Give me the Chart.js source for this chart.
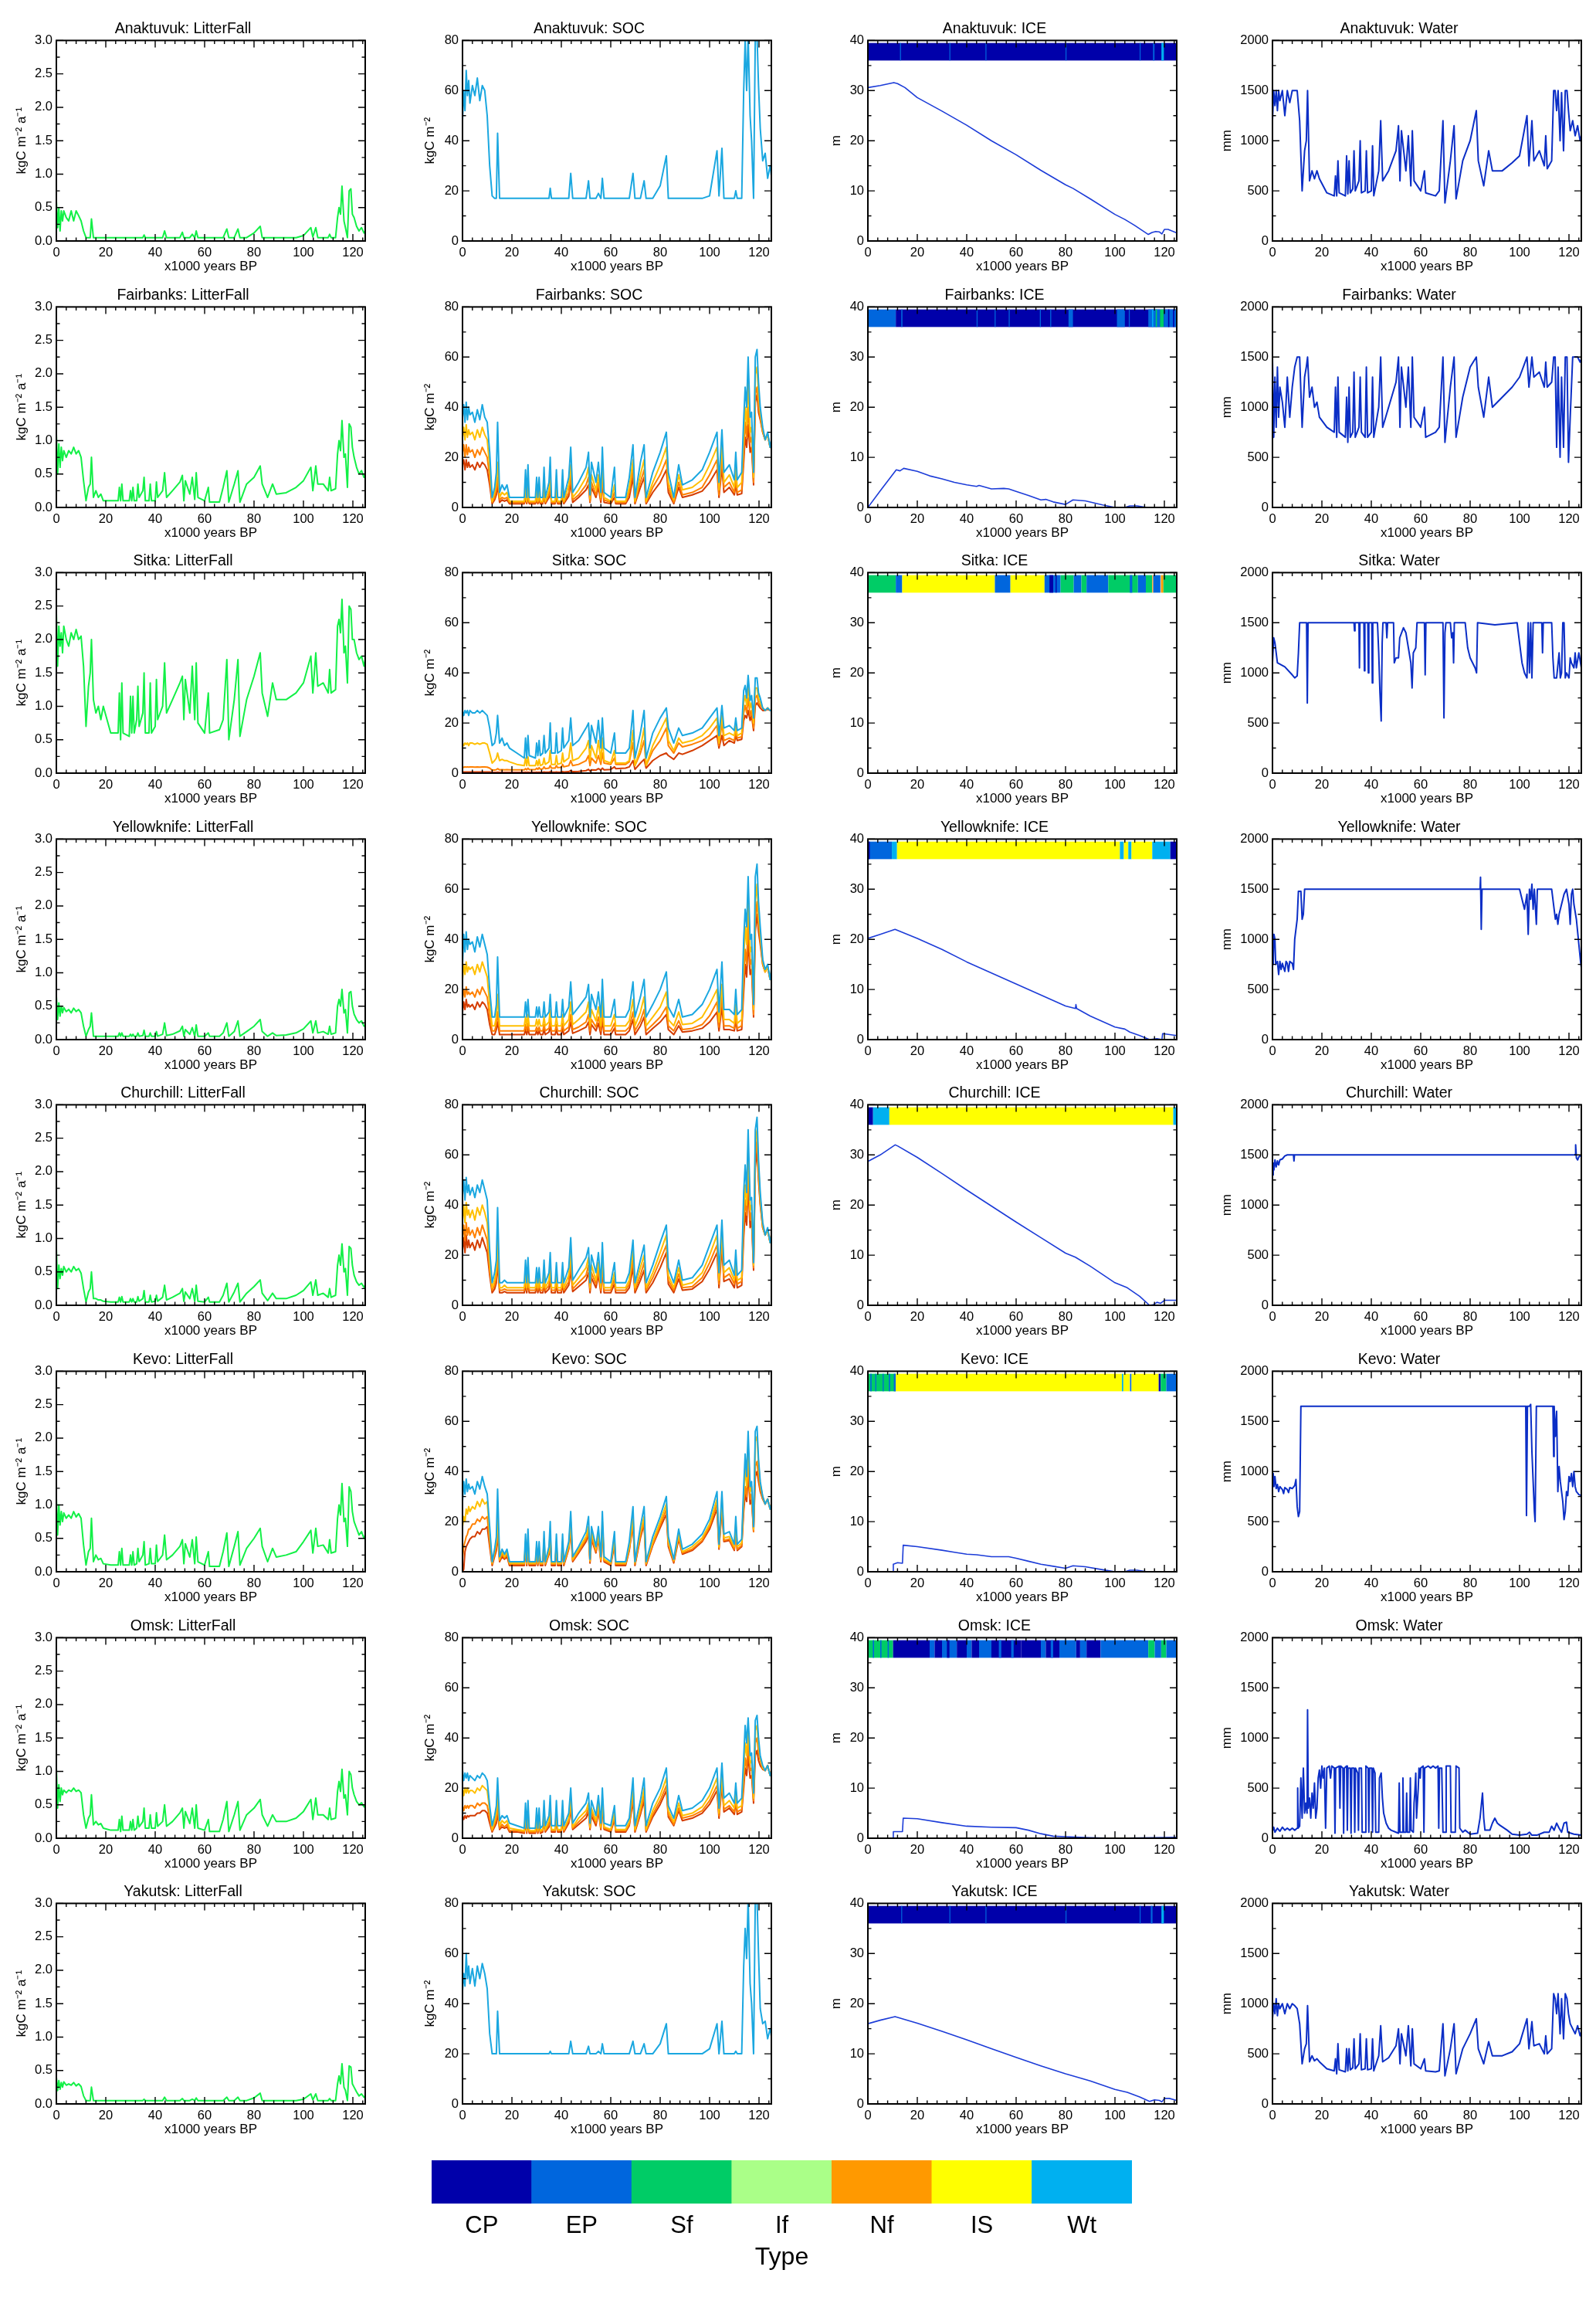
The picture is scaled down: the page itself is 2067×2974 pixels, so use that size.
<!DOCTYPE html>
<html>
<head>
<meta charset="utf-8">
<title>LitterFall, SOC, ICE and Water at eight sites</title>
<script src="https://cdn.jsdelivr.net/npm/chart.js@4.4.1/dist/chart.umd.min.js"></script>
<style>
  html, body { margin: 0; padding: 0; background: #fff; }
  #page { position: relative; width: 2067px; height: 2974px; overflow: hidden; }
  #page canvas { position: absolute; }
</style>
</head>
<body>
<div id="page"></div>
<script>
// time axis, x1000 years BP, shared by the LitterFall, SOC and some Water series
const tBP = [
  0, 0.5, 1, 1.5, 2, 2.5, 3, 4, 5, 6, 7, 8, 9, 10,
  11, 12, 13, 13.7, 14.2, 15, 16, 17, 18, 19,
  22, 25, 25.5, 26, 26.5, 27, 29.5, 30, 30.5, 31, 31.5, 32.5, 33, 33.5,
  35, 35.5, 36, 37.5, 38, 38.5, 40, 40.5, 41, 43, 43.8, 44.6,
  47, 50, 51, 51.6, 52.2, 54, 55, 56, 56.6, 57.3, 60, 61.5, 62,
  66, 67.5, 69, 69.8, 72, 73.5, 74.3, 77, 80, 82.5, 83.3,
  85.5, 87.5, 89, 93, 97, 100, 103, 103.8, 105, 105.8,
  108, 110, 110.6, 111.2, 113, 113.8, 114.4, 115, 115.6, 116.4, 117, 117.8, 118.5, 119.2, 119.8, 120.5, 121.5, 122.5, 123.5, 124.5, 125
];

const sites = ['Anaktuvuk', 'Fairbanks', 'Sitka', 'Yellowknife', 'Churchill', 'Kevo', 'Omsk', 'Yakutsk'];
const typeNames = ['CP', 'EP', 'Sf', 'If', 'Nf', 'IS', 'Wt'];
const typeColors = ['#0000aa', '#0066dd', '#00cc66', '#aaff88', '#ff9900', '#ffff00', '#00b0f0'];
const typeBar = [1, 1, 1, 1, 1, 1, 1];

const xTicks = [0, 20, 40, 60, 80, 100, 120];
const litTicks = [0, 0.5, 1, 1.5, 2, 2.5, 3];
const socTicks = [0, 20, 40, 60, 80];
const iceTicks = [0, 10, 20, 30, 40];
const watTicks = [0, 500, 1000, 1500, 2000];

// ---- Anaktuvuk
const anaLit = [
  0.6, 0.2, 0.5, 0.15, 0.45, 0.3, 0.45, 0.35, 0.3, 0.45, 0.3, 0.45, 0.38, 0.3,
  0.15, 0.05, 0.05, 0.05, 0.33, 0.05, 0.05, 0.05, 0.05, 0.05,
  0.05, 0.05, 0.05, 0.05, 0.05, 0.05, 0.05, 0.05, 0.05, 0.05, 0.05, 0.05, 0.05, 0.05,
  0.05, 0.09, 0.05, 0.05, 0.05, 0.05, 0.05, 0.05, 0.05, 0.05, 0.15, 0.05,
  0.05, 0.05, 0.13, 0.05, 0.05, 0.05, 0.1, 0.05, 0.15, 0.05, 0.05, 0.05, 0.05,
  0.05, 0.05, 0.18, 0.05, 0.05, 0.18, 0.05, 0.05, 0.12, 0.22, 0.05,
  0.05, 0.05, 0.05, 0.05, 0.05, 0.08, 0.2, 0.06, 0.2, 0.05,
  0.05, 0.05, 0.1, 0.05, 0.05, 0.35, 0.5, 0.4, 0.82, 0.3, 0.2, 0.05, 0.75, 0.78, 0.4, 0.35, 0.22, 0.15, 0.2, 0.12, 0.15
];
const anaSoc = [
  48, 60, 52, 68, 58, 64, 55, 62, 58, 65, 56, 62, 60, 50,
  30, 18, 17, 17, 43, 17, 17, 17, 17, 17,
  17, 17, 17, 17, 17, 17, 17, 17, 17, 17, 17, 17, 17, 17,
  17, 21, 17, 17, 17, 17, 17, 17, 17, 17, 27, 17,
  17, 17, 24, 17, 17, 17, 19, 17, 25, 17, 17, 17, 17,
  17, 17, 27, 17, 17, 24, 17, 17, 22, 34, 17,
  17, 17, 17, 17, 17, 18, 36, 18, 37, 17,
  17, 17, 20, 17, 17, 60, 80, 60, 82, 50, 40, 17, 82, 82, 62, 45, 32, 35, 25, 30, 26
];
const anaWat = [
  1200, 1500, 1350, 1500, 1300, 1500, 1400, 1500, 1250, 1500, 1380, 1500, 1500, 1500,
  1200, 500, 900, 1000, 1500, 600, 700, 620, 700, 620,
  480, 450, 650, 450, 800, 480, 450, 850, 470, 800, 480, 520, 900, 500,
  600, 1000, 480, 500, 900, 480, 500, 950, 450, 700, 1200, 600,
  700, 900, 1150, 600, 1100, 700, 1050, 550, 1100, 600, 500, 700, 480,
  450, 500, 1200, 380, 800, 1150, 420, 800, 1000, 1300, 800,
  550, 900, 700, 700, 780, 850, 1250, 750, 1200, 800,
  900, 750, 1050, 720, 800, 1500, 1500, 1300, 1500, 1000, 1480, 900, 1500, 1500, 1300, 1100, 1200, 1050, 1150, 1000, 1050
];
const anaIce = [[0, 30.6], [5, 31], [10.5, 31.6], [12, 31.4], [15, 30.6], [20, 28.6], [30, 25.9], [40, 23.1], [50, 20], [60, 17.2], [70, 14.1], [80, 11.2], [83, 10.5], [90, 8.4], [100, 5.3], [104, 4.3], [108, 3.1], [113.5, 1.3], [115, 1.7], [116.5, 1.9], [118, 1.8], [119, 1.4], [120, 2.3], [121.5, 2.3], [125, 1.6]];
const anaType = [[0, 125, 0], [13, 13.4, 1], [33, 33.3, 1], [47.6, 47.9, 1], [80, 80.2, 1], [110, 110.2, 1], [115.4, 116, 1], [118.8, 119.8, 6]];

// ---- Fairbanks
const fbkLit = [
  1.1, 0.5, 0.95, 0.6, 0.9, 0.7, 0.85, 0.75, 0.85, 0.8, 0.9, 0.8, 0.85, 0.75,
  0.4, 0.1, 0.3, 0.35, 0.75, 0.15, 0.25, 0.15, 0.2, 0.1,
  0.1, 0.1, 0.3, 0.1, 0.35, 0.1, 0.1, 0.25, 0.1, 0.3, 0.1, 0.1, 0.35, 0.15,
  0.25, 0.45, 0.1, 0.1, 0.35, 0.1, 0.1, 0.38, 0.15, 0.25, 0.52, 0.15,
  0.25, 0.38, 0.48, 0.1, 0.4, 0.2, 0.45, 0.12, 0.52, 0.15, 0.1, 0.3, 0.08,
  0.08, 0.3, 0.55, 0.08, 0.35, 0.55, 0.08, 0.35, 0.45, 0.62, 0.35,
  0.15, 0.35, 0.2, 0.22, 0.3, 0.4, 0.6, 0.25, 0.62, 0.35,
  0.35, 0.25, 0.45, 0.25, 0.28, 0.8, 1.0, 0.85, 1.3, 0.75, 0.8, 0.3, 1.25, 1.2, 0.9, 0.75, 0.6, 0.5, 0.55, 0.45, 0.5
];
const fbkSocWt = [
  36, 41, 34, 42, 35, 40, 37, 38, 34, 39, 35, 41, 36, 34,
  22, 4, 8, 14, 34, 6, 9, 7, 9, 4,
  4, 4, 15, 4, 17, 4, 4, 12, 4, 12, 4, 4, 16, 4,
  10, 20, 4, 4, 15, 4, 4, 15, 4, 12, 24, 6,
  10, 16, 22, 5, 18, 10, 18, 6, 24, 6, 4, 16, 4,
  4, 12, 25, 4, 18, 25, 4, 14, 22, 30, 14,
  4, 17, 9, 11, 15, 22, 30, 10, 31, 14,
  17, 11, 22, 11, 14, 35, 48, 40, 60, 36, 38, 14, 60, 63, 50, 40, 32, 27, 30, 24, 27
];
const fbkSocIS = [
  28, 32, 27, 33, 28, 31, 29, 30, 27, 31, 28, 32, 29, 27,
  16, 2.5, 6, 10, 18, 4, 6, 5, 6, 2.5,
  2.5, 2.5, 8, 2.5, 9, 2.5, 2.5, 7, 2.5, 7, 2.5, 2.5, 9, 2.5,
  7, 13, 2.5, 2.5, 9, 2.5, 2.5, 9, 2.5, 9, 17, 4,
  7, 12, 16, 3.5, 13, 7, 13, 4, 17, 4, 2.5, 9, 2.5,
  2.5, 8, 19, 2.5, 13, 19, 2.5, 10, 17, 24, 10,
  3, 13, 7, 8, 11, 17, 24, 7, 25, 10,
  13, 8, 16, 8, 10, 28, 40, 33, 50, 30, 32, 12, 53, 56, 45, 38, 31, 27, 29, 24, 26
];
const fbkSocNf = [
  22, 25, 20, 25, 21, 24, 22, 23, 20, 23, 21, 24, 22, 20,
  12, 2, 4, 7, 12, 3, 4, 3.5, 4, 2,
  2, 2, 5, 2, 6, 2, 2, 4.5, 2, 4.5, 2, 2, 6, 2,
  5, 9, 2, 2, 6, 2, 2, 6, 2, 6, 13, 3,
  5, 9, 12, 2.5, 10, 5, 10, 3, 13, 3, 2, 6, 2,
  2, 6, 15, 2, 10, 15, 2, 8, 13, 19, 8,
  2, 10, 5, 6, 8, 13, 19, 5, 20, 8,
  10, 6, 12, 6, 7, 22, 34, 28, 40, 26, 28, 10, 45, 48, 40, 36, 30, 27, 29, 24, 26
];
const fbkSocRd = [
  17, 19, 15, 19, 16, 18, 16, 17, 15, 18, 16, 18, 17, 15,
  9, 1.5, 3, 5, 9, 2, 3, 2.5, 3, 1.5,
  1.5, 1.5, 3.5, 1.5, 4, 1.5, 1.5, 3, 1.5, 3, 1.5, 1.5, 4, 1.5,
  4, 7, 1.5, 1.5, 4, 1.5, 1.5, 4.5, 1.5, 4.5, 10, 2,
  4, 7, 9, 2, 8, 4, 8, 2, 10, 2, 1.5, 4, 1.5,
  1.5, 4, 12, 1.5, 8, 12, 1.5, 6, 10, 15, 6,
  1.5, 8, 4, 5, 6.5, 10, 15, 4, 16, 6,
  8, 5, 9, 5, 5.5, 18, 28, 24, 33, 22, 24, 9, 42, 45, 38, 35, 30, 27, 29, 24, 26
];
const fbkWat = [
  1500, 700, 1300, 800, 1400, 900, 1200, 1050, 800, 1300, 900, 1200, 1400, 1500,
  1500, 800, 1300, 1400, 1500, 1100, 1200, 1000, 1050, 900,
  800, 750, 1200, 700, 1300, 750, 700, 1100, 650, 1200, 700, 750, 1350, 700,
  800, 1300, 750, 700, 1400, 700, 750, 1300, 700, 1000, 1500, 800,
  1000, 1250, 1500, 800, 1400, 1000, 1400, 800, 1500, 900, 800, 1000, 700,
  750, 800, 1500, 650, 1200, 1500, 700, 1100, 1400, 1500, 1200,
  900, 1300, 1000, 1100, 1200, 1300, 1500, 1200, 1500, 1300,
  1350, 1200, 1450, 1200, 1250, 1500, 1500, 600, 1400, 500, 1300, 600, 1500, 1500, 450, 900, 1500, 1500, 1500, 1450, 1480
];
const fbkIce = [[0, 0], [5, 3.3], [11.5, 7.5], [13, 7.3], [14.5, 7.8], [20, 7.2], [25, 6.3], [30, 5.7], [35, 5], [40, 4.5], [44, 4.2], [45, 4.4], [50, 3.7], [55, 3.8], [57, 3.7], [60, 3.2], [65, 2.4], [70, 1.5], [72, 1.6], [75, 1.1], [80, 0.6], [83, 1.5], [88, 1.3], [95, 0.5], [100, 0], [104, 0], [106, 0.3], [109, 0.3], [113, 0], [125, 0]];
const fbkType = [[0, 11.3, 1], [11.3, 125, 0], [13.5, 14, 1], [44, 44.4, 1], [51.3, 51.7, 1], [57, 57.4, 1], [69.6, 70, 1], [73.8, 74.2, 1], [81.2, 83, 1], [100.8, 104, 1], [105.6, 106, 1], [113.5, 118.2, 1], [115, 115.5, 6], [116.5, 117, 2], [118.2, 119.8, 2], [119.8, 125, 1], [121.5, 122, 0], [123.5, 124, 0]];

// ---- Sitka
const sitLit = [
  2.4, 1.6, 2.2, 1.9, 2.1, 1.8, 2.2, 2.0, 1.9, 2.1, 2.0, 2.15, 2.0, 2.05,
  1.6, 0.7, 1.3, 1.5, 2.0, 1.1, 0.9, 1.0, 0.8, 1.0,
  0.6, 0.6, 1.2, 0.5, 1.35, 0.6, 0.55, 1.15, 0.6, 1.15, 0.6, 0.8, 1.3, 0.7,
  0.9, 1.5, 0.6, 0.6, 1.35, 0.6, 0.7, 1.4, 0.8, 1.0, 1.65, 0.9,
  1.1, 1.35, 1.45, 0.8, 1.4, 0.9, 1.6, 0.8, 1.65, 0.75, 0.6, 1.2, 0.6,
  0.65, 0.8, 1.7, 0.5, 1.1, 1.7, 0.55, 1.1, 1.45, 1.8, 1.2,
  0.85, 1.35, 1.1, 1.1, 1.2, 1.35, 1.75, 1.2, 1.8, 1.3,
  1.35, 1.2, 1.55, 1.2, 1.25, 2.2, 2.3, 2.1, 2.6, 1.8, 1.9, 1.35, 2.5, 2.45, 2.0, 2.0, 1.8, 1.7, 1.75, 1.6, 1.7
];
const sitSocWt = [
  25, 23, 25, 24, 25, 23, 25, 24, 24, 25, 24, 25, 24, 23,
  18, 11, 12, 16, 23, 12, 14, 11, 12, 10,
  8, 6, 14, 6, 15, 7, 6, 12, 7, 13, 7, 8, 15, 8,
  10, 20, 8, 8, 16, 8, 9, 18, 10, 13, 22, 11,
  13, 18, 20, 10, 19, 12, 21, 10, 22, 10, 8, 16, 8,
  8, 10, 25, 6, 16, 25, 6, 16, 22, 26, 18,
  12, 18, 15, 16, 18, 22, 26, 15, 27, 18,
  19, 17, 22, 17, 18, 33, 35, 30, 39, 29, 31, 22, 38, 38, 32, 30, 26, 25, 26, 25, 25
];
const sitSocIS = [
  12, 11, 12, 11.5, 12, 11, 12, 12, 11.5, 12, 11.5, 12, 12, 11.5,
  8, 4, 5, 6, 8, 5, 5.5, 5, 5, 4.5,
  3.5, 3, 6, 3, 6.5, 3, 3, 5, 3, 5.5, 3, 3.5, 6, 3.5,
  4.5, 9, 3.5, 3.5, 7, 3.5, 4, 8, 4.5, 6, 12, 5,
  6, 10, 13, 5, 11, 6, 13, 5, 14, 5, 4, 9, 4,
  4, 5, 17, 3, 10, 18, 3, 11, 17, 22, 13,
  9, 14, 12, 13, 15, 18, 22, 12, 23, 15,
  16, 15, 19, 15, 16, 28, 31, 27, 35, 26, 28, 20, 34, 34, 30, 28, 26, 25, 26, 25, 25
];
const sitSocNf = [
  2.5, 2.3, 2.5, 2.4, 2.5, 2.4, 2.5, 2.5, 2.4, 2.5, 2.4, 2.5, 2.5, 2.4,
  2, 1.2, 1.2, 1.4, 1.8, 1.3, 1.4, 1.3, 1.4, 1.3,
  1.3, 1.3, 1.8, 1.3, 2, 1.4, 1.4, 2, 1.5, 2.2, 1.6, 1.7, 2.5, 1.8,
  2, 3, 2, 2, 3, 2.2, 2.3, 3.5, 2.5, 3, 5, 3,
  3.5, 5, 7, 3, 6, 4, 7, 3.5, 8, 4, 3.5, 6, 3.5,
  3.5, 4.5, 12, 3, 8, 13, 3, 9, 13, 18, 11,
  8, 12, 10.5, 11.5, 13, 15, 19, 11, 20, 13,
  14, 13, 17, 14, 14.5, 24, 27, 24, 30, 23, 25, 18, 30, 31, 28, 27, 26, 25, 26, 25, 25
];
const sitSocRd = [
  0.5, 0.5, 0.5, 0.5, 0.5, 0.5, 0.5, 0.5, 0.5, 0.5, 0.5, 0.5, 0.5, 0.5,
  0.5, 0.3, 0.3, 0.3, 0.4, 0.3, 0.3, 0.3, 0.3, 0.3,
  0.3, 0.3, 0.4, 0.3, 0.4, 0.3, 0.3, 0.4, 0.3, 0.4, 0.3, 0.3, 0.5, 0.4,
  0.4, 0.6, 0.4, 0.4, 0.5, 0.4, 0.4, 0.6, 0.5, 0.6, 1, 0.6,
  0.7, 1, 1.5, 0.8, 1.3, 1.2, 1.8, 1.2, 2, 1.3, 1.5, 2.5, 1.8,
  2, 2.5, 5, 1.5, 4, 5.5, 2, 5, 7, 8, 7,
  5.5, 8, 7.5, 9, 11, 13, 15, 10, 15, 11,
  13, 12, 15, 13, 13.5, 21, 23, 22, 25, 21, 23, 17, 27, 28, 27, 26, 25, 25, 25.5, 25, 25
];
const sitWat = [[0, 1100], [0.5, 1350], [1, 1300], [2, 1100], [5, 1060], [8, 980], [9, 950], [10, 970], [10.5, 1200], [11, 1500], [13.8, 1500], [14.1, 700], [14.4, 1500], [33, 1500], [33.2, 1420], [33.4, 1500], [35, 1500], [35.2, 1050], [35.4, 1500], [37, 1500], [37.2, 1020], [37.4, 1500], [38.6, 1500], [38.8, 1000], [39, 1500], [40.2, 1500], [40.4, 900], [40.6, 1500], [42.5, 1500], [43, 1200], [43.5, 800], [44, 520], [44.4, 1300], [44.7, 1500], [46, 1500], [46.3, 1350], [46.6, 1500], [49, 1500], [49.3, 1100], [50, 1150], [51, 1150], [51.5, 1350], [53, 1450], [54, 1400], [55, 1250], [56, 1100], [56.5, 850], [57, 1200], [58, 1250], [58.5, 1500], [61.5, 1500], [61.8, 980], [62.1, 1500], [69, 1500], [69.4, 550], [69.8, 1400], [70.2, 1500], [72, 1500], [72.5, 1350], [73, 1400], [73.3, 1100], [73.6, 1500], [78, 1500], [79, 1250], [80, 1150], [81, 1100], [82, 1050], [82.6, 1000], [83, 1500], [90, 1480], [99, 1500], [100, 1300], [101, 1100], [102, 1000], [103, 950], [103.5, 1500], [104, 1000], [104.5, 1500], [105, 950], [105.5, 1500], [109, 1500], [109.3, 1200], [109.6, 1500], [113, 1500], [113.5, 1150], [114, 950], [115, 950], [116, 1200], [116.5, 950], [117, 1000], [117.5, 1500], [118, 1500], [118.5, 950], [119, 1000], [120, 950], [120.5, 1150], [121, 1100], [122, 1050], [122.5, 1200], [123, 1050], [124, 1200], [125, 1050]];
const sitIce = [[0, 0], [125, 0]];
const sitType = [[0, 11.3, 2], [11.3, 13.9, 1], [13.9, 51.4, 5], [51.4, 57.7, 1], [57.7, 71.5, 5], [71.5, 78, 1], [73.5, 75, 0], [76, 76.4, 0], [78, 83.3, 2], [83.3, 86.4, 1], [86.4, 88.5, 2], [88.5, 97.3, 1], [97.3, 109.3, 2], [106, 107, 1], [109.3, 112.5, 1], [112.5, 115, 2], [115.1, 115.5, 4], [115.5, 118.4, 1], [118.6, 119.6, 4], [119.6, 125, 2]];

// ---- Yellowknife
const yelLit = [
  0.65, 0.3, 0.55, 0.35, 0.5, 0.4, 0.48, 0.42, 0.45, 0.4, 0.47, 0.42, 0.45, 0.4,
  0.2, 0.05, 0.15, 0.2, 0.4, 0.05, 0.05, 0.05, 0.05, 0.05,
  0.05, 0.05, 0.1, 0.05, 0.1, 0.05, 0.05, 0.08, 0.05, 0.08, 0.05, 0.05, 0.1, 0.05,
  0.06, 0.14, 0.05, 0.05, 0.1, 0.05, 0.05, 0.12, 0.05, 0.08, 0.25, 0.06,
  0.08, 0.13, 0.2, 0.05, 0.15, 0.08, 0.18, 0.05, 0.22, 0.05, 0.05, 0.1, 0.05,
  0.05, 0.1, 0.25, 0.05, 0.12, 0.28, 0.05, 0.12, 0.2, 0.3, 0.12,
  0.05, 0.1, 0.06, 0.07, 0.1, 0.16, 0.28, 0.1, 0.28, 0.1,
  0.12, 0.08, 0.2, 0.08, 0.1, 0.5, 0.6, 0.5, 0.75, 0.4, 0.45, 0.1, 0.7, 0.72, 0.5, 0.38, 0.3, 0.25, 0.28, 0.2, 0.22
];
const yelSocWt = [
  30, 42, 35, 43, 36, 40, 38, 39, 35, 41, 37, 42, 38, 34,
  20, 9, 9, 14, 33, 9, 9, 9, 9, 9,
  9, 9, 15, 9, 16, 9, 9, 13, 9, 13, 9, 9, 15, 9,
  11, 18, 9, 9, 15, 9, 9, 16, 9, 13, 23, 10,
  13, 17, 22, 9, 18, 12, 19, 9, 24, 9, 9, 16, 9,
  9, 12, 23, 9, 17, 24, 9, 14, 20, 27, 13,
  9, 16, 9, 10, 14, 20, 28, 11, 31, 12,
  12, 10, 20, 10, 12, 40, 52, 45, 65, 40, 42, 14, 65, 70, 55, 45, 32, 28, 30, 24, 28
];
const yelSocIS = [
  24, 30, 26, 31, 27, 29, 28, 29, 26, 30, 27, 31, 28, 25,
  14, 5.5, 5.5, 9, 18, 5.5, 5.5, 5.5, 5.5, 5.5,
  5.5, 5.5, 9, 5.5, 10, 5.5, 5.5, 8, 5.5, 8, 5.5, 5.5, 9, 5.5,
  7, 12, 5.5, 5.5, 9, 5.5, 5.5, 10, 5.5, 8, 15, 6,
  8, 11, 15, 5.5, 12, 7.5, 13, 5.5, 16, 5.5, 5.5, 10, 5.5,
  5.5, 7.5, 16, 5.5, 11, 17, 5.5, 9, 13, 19, 8,
  5.5, 11, 6, 6.5, 9, 14, 20, 7, 22, 8,
  8, 6.5, 14, 6.5, 8, 32, 45, 38, 58, 35, 37, 12, 55, 62, 50, 42, 31, 27, 29, 24, 27
];
const yelSocNf = [
  16, 20, 17, 21, 18, 19, 18, 19, 17, 20, 18, 21, 19, 17,
  9, 3.5, 3.5, 6, 11, 3.5, 3.5, 3.5, 3.5, 3.5,
  3.5, 3.5, 6, 3.5, 6.5, 3.5, 3.5, 5, 3.5, 5, 3.5, 3.5, 6, 3.5,
  4.5, 8, 3.5, 3.5, 6, 3.5, 3.5, 6.5, 3.5, 5, 10, 4,
  5, 7, 10, 3.5, 8, 5, 9, 3.5, 11, 3.5, 3.5, 6.5, 3.5,
  3.5, 5, 11, 3.5, 7.5, 12, 3.5, 6, 9, 13, 5.5,
  3.5, 7.5, 4, 4.5, 6, 9.5, 15, 5, 17, 5.5,
  5.5, 4.5, 10, 4.5, 5.5, 24, 36, 30, 48, 30, 32, 10, 48, 55, 46, 40, 30, 27, 29, 24, 27
];
const yelSocRd = [
  11, 15, 12, 16, 13, 14, 13, 14, 12, 15, 13, 15, 14, 12,
  6, 2, 2, 4, 7, 2, 2, 2, 2, 2,
  2, 2, 4, 2, 4.5, 2, 2, 3.5, 2, 3.5, 2, 2, 4, 2,
  3, 5.5, 2, 2, 4, 2, 2, 4.5, 2, 3.5, 7, 2.5,
  3.5, 5, 7, 2, 6, 3.5, 6.5, 2, 8, 2, 2, 4.5, 2,
  2, 3.5, 8, 2, 5.5, 9, 2, 4.5, 7, 10, 4,
  2, 5.5, 3, 3.5, 4.5, 7, 11, 3.5, 13, 4,
  4, 3.5, 7.5, 3.5, 4, 19, 30, 25, 40, 26, 28, 9, 43, 50, 43, 38, 30, 27, 29, 24, 27
];
const yelWat = [[0, 1050], [0.3, 750], [0.6, 1050], [1, 1000], [1.3, 750], [2, 780], [2.5, 650], [3, 780], [3.5, 700], [4, 760], [5, 680], [5.5, 780], [6, 760], [6.5, 680], [7, 780], [8, 760], [8.5, 700], [9, 1000], [10, 1200], [10.5, 1480], [11.5, 1480], [12, 1200], [12.5, 1250], [13, 1500], [84, 1500], [84.2, 1620], [84.5, 1100], [84.8, 1500], [100, 1500], [101, 1400], [102, 1300], [103, 1450], [103.5, 1050], [104, 1500], [104.5, 1400], [105, 1550], [105.5, 1300], [106, 1500], [106.8, 1150], [107.2, 1500], [113, 1500], [114, 1300], [114.5, 1200], [115, 1250], [115.5, 1150], [116, 1250], [117, 1350], [118, 1450], [119, 1500], [120, 1350], [120.5, 1150], [121, 1450], [121.5, 1500], [122, 1350], [123, 1200], [124, 950], [124.8, 750], [125, 720]];
const yelIce = [[0, 20.2], [5, 21], [11, 22], [20, 20.2], [30, 18], [40, 15.5], [50, 13.3], [60, 11.1], [70, 8.9], [80, 6.7], [84, 6.2], [84.2, 7], [84.5, 6.2], [90, 4.7], [100, 2.5], [104, 2.1], [106, 1.5], [110, 0.8], [114, 0], [117, 0.2], [119, 0], [119.3, 1.2], [125, 0.8]];
const yelType = [[0, 9.7, 1], [0, 0.8, 0], [9.7, 11.8, 6], [11.8, 102, 5], [102, 103.6, 6], [103.6, 105.4, 5], [105.4, 106.7, 6], [106.7, 115.1, 5], [115.1, 122.4, 6], [122.4, 125, 0]];

// ---- Churchill
const chuLit = [
  0.85, 0.25, 0.6, 0.4, 0.55, 0.45, 0.58, 0.5, 0.55, 0.5, 0.58, 0.52, 0.55, 0.48,
  0.25, 0.05, 0.2, 0.25, 0.5, 0.1, 0.1, 0.08, 0.08, 0.06,
  0.05, 0.05, 0.12, 0.05, 0.13, 0.05, 0.05, 0.1, 0.05, 0.1, 0.05, 0.05, 0.13, 0.06,
  0.1, 0.22, 0.05, 0.05, 0.15, 0.05, 0.06, 0.15, 0.06, 0.12, 0.3, 0.08,
  0.12, 0.18, 0.25, 0.06, 0.2, 0.1, 0.25, 0.06, 0.3, 0.06, 0.05, 0.12, 0.05,
  0.05, 0.15, 0.33, 0.05, 0.2, 0.33, 0.05, 0.18, 0.28, 0.38, 0.18,
  0.07, 0.18, 0.1, 0.1, 0.15, 0.22, 0.35, 0.15, 0.38, 0.15,
  0.18, 0.12, 0.25, 0.12, 0.15, 0.6, 0.75, 0.6, 0.92, 0.5, 0.55, 0.15, 0.88, 0.85, 0.6, 0.45, 0.35, 0.3, 0.33, 0.27, 0.3
];
const chuSocWt = [
  44, 50, 42, 51, 45, 48, 44, 47, 43, 48, 45, 50, 46, 42,
  22, 9, 13, 18, 39, 9, 9, 10, 9, 9,
  9, 9, 18, 9, 19, 9, 9, 15, 9, 15, 9, 9, 18, 9,
  13, 21, 9, 9, 17, 9, 9, 17, 9, 15, 27, 10,
  14, 19, 23, 9, 20, 13, 21, 9, 25, 9, 9, 17, 9,
  9, 13, 26, 9, 18, 24, 9, 16, 25, 32, 15,
  9, 18, 10, 11, 16, 24, 32, 13, 34, 16,
  18, 12, 22, 12, 14, 45, 56, 45, 70, 42, 43, 17, 70, 75, 58, 45, 33, 28, 31, 25, 28
];
const chuSocIS = [
  34, 40, 33, 41, 36, 38, 35, 38, 34, 39, 36, 40, 37, 33,
  17, 7, 10, 14, 28, 7, 7, 8, 7, 7,
  7, 7, 13, 7, 14, 7, 7, 11, 7, 11, 7, 7, 13, 7,
  10, 16, 7, 7, 13, 7, 7, 13, 7, 12, 21, 8,
  11, 15, 19, 7, 16, 10, 17, 7, 21, 7, 7, 13, 7,
  7, 10, 22, 7, 15, 20, 7, 13, 21, 28, 12,
  7, 15, 8, 9, 13, 20, 28, 10, 30, 13,
  15, 10, 18, 10, 11, 38, 48, 40, 62, 38, 40, 16, 65, 70, 55, 43, 32, 28, 30, 25, 28
];
const chuSocNf = [
  27, 32, 26, 33, 28, 31, 28, 30, 27, 31, 28, 32, 29, 26,
  14, 6, 8, 11, 22, 6, 6, 6.5, 6, 6,
  6, 6, 10, 6, 11, 6, 6, 9, 6, 9, 6, 6, 10, 6,
  8, 13, 6, 6, 10, 6, 6, 10.5, 6, 9.5, 17, 6.5,
  9, 12, 16, 6, 13, 8.5, 14, 6, 17, 6, 6, 10.5, 6,
  6, 8.5, 18, 6, 12, 17, 6, 11, 18, 24, 10,
  6, 12.5, 7, 7.5, 11, 17, 24, 8.5, 26, 11,
  12.5, 8.5, 15, 8.5, 9.5, 32, 42, 36, 55, 34, 37, 15, 60, 66, 52, 41, 31, 28, 30, 25, 28
];
const chuSocRd = [
  22, 27, 21, 28, 23, 26, 23, 25, 22, 26, 23, 27, 24, 21,
  12, 5, 6.5, 9, 17, 5, 5, 5.5, 5, 5,
  5, 5, 8, 5, 9, 5, 5, 7.5, 5, 7.5, 5, 5, 8, 5,
  6.5, 10.5, 5, 5, 8, 5, 5, 8.5, 5, 8, 14, 5.5,
  7.5, 10, 13, 5, 11, 7, 12, 5, 14, 5, 5, 8.5, 5,
  5, 7, 15, 5, 10, 14, 5, 9, 15, 21, 8.5,
  5, 10.5, 6, 6.5, 9.5, 14.5, 21, 7, 23, 9.5,
  10.5, 7, 12.5, 7, 8, 27, 37, 32, 48, 31, 34, 14, 55, 62, 50, 40, 31, 28, 30, 25, 28
];
const chuWat = [[0, 1300], [0.3, 1420], [0.6, 1350], [1, 1450], [1.5, 1380], [2, 1440], [2.5, 1400], [3, 1450], [4, 1460], [5, 1490], [6, 1500], [8.5, 1500], [8.7, 1440], [8.9, 1500], [122.5, 1500], [122.7, 1600], [123, 1470], [123.5, 1450], [124, 1480], [125, 1500]];
const chuIce = [[0, 28.7], [5, 30], [11, 32], [12, 31.8], [20, 29.5], [30, 26.3], [40, 23], [50, 19.8], [60, 16.6], [70, 13.5], [80, 10.4], [84, 9.6], [90, 7.8], [100, 4.5], [105, 3.5], [110, 1.8], [114, 0], [115.5, 0.1], [117, 0.6], [118.5, 0.4], [120, 1], [125, 1]];
const chuType = [[0, 2.1, 0], [2.1, 8.7, 6], [8.7, 123.6, 5], [123.6, 125, 6]];

// ---- Kevo
const kevLit = [
  1.1, 0.55, 1.0, 0.7, 0.9, 0.75, 0.88, 0.8, 0.85, 0.8, 0.9, 0.82, 0.87, 0.8,
  0.4, 0.1, 0.3, 0.35, 0.8, 0.15, 0.25, 0.18, 0.2, 0.12,
  0.1, 0.1, 0.3, 0.1, 0.35, 0.1, 0.1, 0.25, 0.1, 0.3, 0.1, 0.12, 0.35, 0.15,
  0.25, 0.45, 0.1, 0.12, 0.35, 0.12, 0.12, 0.4, 0.15, 0.25, 0.55, 0.18,
  0.25, 0.38, 0.48, 0.12, 0.42, 0.22, 0.48, 0.12, 0.52, 0.15, 0.1, 0.3, 0.08,
  0.08, 0.3, 0.58, 0.08, 0.38, 0.6, 0.1, 0.35, 0.5, 0.65, 0.38,
  0.15, 0.35, 0.22, 0.25, 0.3, 0.45, 0.62, 0.28, 0.65, 0.38,
  0.4, 0.28, 0.48, 0.28, 0.3, 0.8, 1.0, 0.85, 1.32, 0.75, 0.8, 0.38, 1.27, 1.2, 0.9, 0.75, 0.65, 0.55, 0.6, 0.5, 0.55
];
const kevSocWt = [
  28, 36, 31, 37, 32, 35, 33, 34, 31, 36, 33, 38, 34, 31,
  18, 4, 9, 14, 33, 6, 9, 7, 9, 4,
  4, 4, 15, 4, 17, 4, 4, 12, 4, 12, 4, 4, 16, 4,
  10, 20, 4, 4, 15, 4, 4, 15, 4, 12, 24, 6,
  10, 16, 22, 5, 18, 10, 18, 6, 24, 6, 4, 16, 4,
  4, 12, 26, 4, 18, 26, 4, 14, 22, 30, 14,
  5, 17, 9, 11, 15, 21, 32, 11, 32, 15,
  16, 11, 22, 11, 13, 34, 47, 38, 56, 34, 36, 18, 56, 58, 45, 36, 30, 27, 29, 25, 27
];
const kevSocIS = [
  18, 22, 20, 25, 23, 26, 24, 26, 25, 28, 26, 29, 27, 28,
  15, 3.5, 8, 12, 22, 5, 8, 6, 8, 3.5,
  3.5, 3.5, 12, 3.5, 13, 3.5, 3.5, 10, 3.5, 10, 3.5, 3.5, 13, 3.5,
  8.5, 16, 3.5, 3.5, 12, 3.5, 3.5, 12, 3.5, 10.5, 20, 5,
  9, 14, 18, 4.5, 16, 9, 15, 5, 20, 5, 3.5, 13, 3.5,
  3.5, 10, 22, 3.5, 16, 22, 3.5, 12, 20, 27, 12,
  4.5, 15, 8, 10, 13.5, 19, 29, 10, 29, 13.5,
  14, 10, 19, 10, 11.5, 30, 42, 34, 50, 32, 34, 17, 52, 54, 43, 35, 30, 27, 29, 25, 27
];
const kevSocNf = [
  5, 10, 12, 14, 15, 17, 17, 19, 19, 21, 20, 22, 21, 22,
  12, 3, 7, 10, 18, 4.5, 7, 5.5, 7, 3,
  3, 3, 10, 3, 11, 3, 3, 8.5, 3, 8.5, 3, 3, 11, 3,
  7.5, 14, 3, 3, 10.5, 3, 3, 10.5, 3, 9.5, 18, 4.5,
  8, 13, 16, 4, 14, 8, 14, 4.5, 18, 4.5, 3, 12, 3,
  3, 9, 20, 3, 14.5, 20, 3, 11, 18.5, 25, 11,
  4, 14, 7.5, 9, 12.5, 18, 27, 9.5, 27, 12.5,
  13, 9, 17, 9, 10.5, 27, 34, 30, 44, 29, 31, 16, 42, 44, 38, 33, 29, 27, 29, 25, 27
];
const kevSocRd = [
  0, 1, 8, 10, 11, 12, 13, 14, 14, 16, 15, 17, 17, 18,
  10, 2.5, 6, 8.5, 15, 4, 6, 5, 6, 2.5,
  2.5, 2.5, 9, 2.5, 10, 2.5, 2.5, 7.5, 2.5, 7.5, 2.5, 2.5, 10, 2.5,
  7, 13, 2.5, 2.5, 9.5, 2.5, 2.5, 9.5, 2.5, 9, 16.5, 4,
  7.5, 12, 15, 3.5, 13, 7.5, 13, 4, 17, 4, 2.5, 11, 2.5,
  2.5, 8.5, 19, 2.5, 13.5, 19, 2.5, 10.5, 17.5, 23, 10,
  3.5, 13, 7, 8.5, 12, 17, 25, 9, 25, 12,
  12.5, 8.5, 16, 8.5, 10, 24, 31, 28, 39, 27, 29, 16, 38, 40, 36, 32, 29, 27, 29, 25, 27
];
const kevWat = [[0, 900], [0.3, 980], [0.6, 850], [1, 950], [1.5, 830], [2, 870], [2.5, 800], [3, 850], [4, 820], [4.5, 780], [5, 840], [6, 820], [6.5, 790], [7, 840], [8, 830], [9, 860], [9.5, 920], [10, 650], [10.5, 550], [11, 600], [11.5, 1650], [102.5, 1650], [102.8, 560], [103.2, 1650], [104, 1650], [104.5, 1670], [105, 1200], [105.5, 900], [106, 600], [106.3, 500], [106.8, 1650], [113.5, 1650], [113.8, 1150], [114, 1650], [114.5, 1350], [115, 1600], [115.5, 800], [116, 1050], [116.5, 900], [117, 800], [117.5, 700], [118, 520], [118.5, 600], [119, 800], [119.5, 760], [120, 950], [120.5, 900], [121, 980], [121.5, 850], [122, 1000], [122.5, 850], [123, 800], [124, 770], [125, 760]];
const kevIce = [[0, 0], [10, 0], [10.3, 1.5], [12, 1.8], [14, 1.7], [14.3, 5.3], [20, 5], [30, 4.3], [35, 3.9], [40, 3.5], [44, 3.4], [50, 3], [57, 3], [60, 2.7], [65, 2.1], [70, 1.5], [75, 1.1], [80, 0.7], [83, 1.2], [88, 1], [95, 0.4], [100, 0], [104, 0], [106, 0.3], [109, 0.3], [113, 0], [125, 0]];
const kevType = [[0, 11.3, 2], [1, 1.5, 1], [3, 3.4, 1], [6, 6.4, 1], [8.5, 9, 1], [10.5, 11.3, 1], [11.3, 102.8, 5], [102.8, 103.4, 6], [103.4, 106, 5], [106.1, 106.7, 1], [106.7, 117.7, 5], [117.7, 118.5, 0], [118.5, 120.8, 2], [120.8, 125, 1]];

// ---- Omsk
const omsLit = [
  1.05, 0.45, 0.8, 0.55, 0.75, 0.65, 0.72, 0.68, 0.72, 0.7, 0.75, 0.7, 0.72, 0.68,
  0.35, 0.15, 0.3, 0.35, 0.65, 0.2, 0.25, 0.2, 0.22, 0.15,
  0.12, 0.12, 0.28, 0.1, 0.33, 0.12, 0.12, 0.25, 0.12, 0.28, 0.12, 0.15, 0.33, 0.17,
  0.25, 0.45, 0.15, 0.15, 0.35, 0.15, 0.15, 0.38, 0.18, 0.25, 0.5, 0.18,
  0.25, 0.38, 0.45, 0.15, 0.4, 0.22, 0.45, 0.15, 0.5, 0.15, 0.12, 0.28, 0.1,
  0.1, 0.28, 0.55, 0.1, 0.35, 0.55, 0.12, 0.35, 0.45, 0.58, 0.35,
  0.18, 0.35, 0.25, 0.25, 0.3, 0.4, 0.58, 0.28, 0.6, 0.35,
  0.35, 0.28, 0.45, 0.28, 0.3, 0.7, 0.85, 0.7, 1.03, 0.6, 0.65, 0.35, 1.0, 0.95, 0.75, 0.65, 0.55, 0.5, 0.53, 0.47, 0.5
];
const omsSocWt = [
  27, 23, 26, 24, 26, 23, 25, 24, 23, 25, 24, 26, 25, 23,
  13, 5, 9, 13, 24, 7, 9, 8, 9, 6,
  5, 4, 14, 4, 15, 4, 4, 12, 4, 12, 4, 5, 15, 5,
  9, 17, 5, 5, 15, 5, 5, 15, 5, 10, 20, 6,
  10, 14, 18, 6, 15, 9, 17, 6, 20, 6, 5, 13, 5,
  5, 8, 24, 5, 15, 24, 5, 14, 20, 28, 13,
  8, 17, 11, 12, 15, 20, 28, 12, 30, 16,
  18, 14, 22, 14, 16, 32, 45, 38, 48, 33, 34, 18, 47, 49, 40, 33, 29, 27, 29, 25, 27
];
const omsSocIS = [
  20, 17, 20, 18, 20, 18, 19, 19, 18, 20, 19, 21, 20, 19,
  11, 3.5, 7, 10, 18, 5, 7, 6, 7, 4,
  3.5, 3, 10, 3, 11, 3, 3, 9, 3, 9, 3, 3.5, 11, 3.5,
  7, 13, 3.5, 3.5, 11, 3.5, 3.5, 11, 3.5, 8, 16, 4.5,
  8, 11, 14, 4.5, 12, 7, 14, 4.5, 16, 4.5, 3.5, 10, 3.5,
  3.5, 6.5, 20, 3.5, 12, 20, 3.5, 11, 17, 24, 11,
  6.5, 14, 9, 10, 12.5, 17, 24, 10, 26, 13,
  15, 12, 19, 12, 13, 27, 38, 33, 44, 30, 31, 16, 43, 45, 37, 32, 28, 27, 29, 25, 27
];
const omsSocNf = [
  13, 11, 13, 12, 13, 12, 13, 13, 12, 14, 13, 14, 14, 13,
  8, 3, 5.5, 7.5, 13, 4, 5.5, 4.5, 5.5, 3,
  3, 2.5, 8, 2.5, 8.5, 2.5, 2.5, 7, 2.5, 7, 2.5, 3, 8.5, 3,
  5.5, 10.5, 3, 3, 9, 3, 3, 9, 3, 7, 13.5, 4,
  6.5, 9.5, 12, 4, 10.5, 6, 12, 4, 14, 4, 3, 8.5, 3,
  3, 5.5, 17, 3, 10.5, 17, 3, 9.5, 15, 21, 9.5,
  5.5, 12, 8, 9, 11, 15, 21, 9, 23, 11.5,
  13, 10.5, 16, 10.5, 11.5, 23, 32, 28, 38, 27, 28, 15, 38, 40, 34, 31, 28, 27, 29, 25, 27
];
const omsSocRd = [
  9, 7.5, 9, 8, 9, 8.5, 9, 9, 9, 10, 10, 11, 11, 10,
  6, 2.5, 4.5, 6, 10, 3.5, 4.5, 4, 4.5, 2.5,
  2.5, 2, 6.5, 2, 7, 2, 2, 6, 2, 6, 2, 2.5, 7, 2.5,
  4.5, 9, 2.5, 2.5, 7.5, 2.5, 2.5, 7.5, 2.5, 6, 12, 3.5,
  5.5, 8, 10.5, 3.5, 9, 5, 10.5, 3.5, 12.5, 3.5, 2.5, 7.5, 2.5,
  2.5, 5, 15, 2.5, 9.5, 15, 2.5, 8.5, 13.5, 19, 8.5,
  5, 11, 7, 8, 10, 13.5, 19, 8, 21, 10.5,
  12, 9.5, 14.5, 9.5, 10.5, 20, 28, 25, 33, 24, 25, 14, 33, 35, 31, 29, 27.5, 27, 29, 25, 27
];
const omsWat = [[0, 70], [0.5, 110], [1, 60], [2, 100], [3, 70], [4, 110], [5, 80], [6, 100], [7, 80], [8, 100], [9, 80], [10, 100], [10.2, 500], [10.4, 100], [11, 120], [11.5, 600], [12, 200], [12.5, 700], [13, 250], [13.5, 350], [14, 250], [14.2, 1280], [14.5, 300], [15, 400], [15.5, 200], [16, 450], [16.5, 300], [17, 550], [17.5, 200], [18, 300], [18.5, 600], [19, 680], [19.5, 500], [20, 720], [20.5, 600], [21, 700], [21.5, 100], [22, 700], [23, 720], [23.5, 600], [24, 720], [25, 700], [25.3, 50], [25.6, 700], [27, 720], [27.3, 300], [27.6, 720], [28.5, 700], [28.8, 50], [29.1, 700], [30, 720], [30.3, 80], [30.6, 700], [31.5, 700], [31.8, 50], [32.1, 700], [33, 700], [33.3, 60], [33.6, 700], [34.5, 650], [34.8, 80], [35.1, 700], [36, 700], [36.3, 60], [37.5, 60], [37.8, 720], [38.7, 700], [39, 60], [39.3, 700], [40.2, 700], [40.5, 60], [40.8, 700], [41.5, 650], [41.8, 60], [43, 60], [43.3, 600], [44, 650], [44.5, 400], [45, 250], [46, 150], [47, 100], [48, 80], [50, 60], [51, 50], [51.3, 550], [51.6, 60], [52.5, 60], [52.8, 600], [53.1, 60], [54, 60], [54.3, 450], [54.6, 60], [55.5, 60], [55.8, 600], [56.1, 80], [57, 60], [57.3, 350], [57.6, 450], [58, 650], [58.3, 200], [59, 500], [59.3, 700], [59.8, 600], [60, 700], [61, 720], [61.3, 60], [61.6, 700], [63, 720], [64, 700], [65, 720], [66, 700], [67, 720], [67.3, 100], [67.6, 700], [68.5, 700], [69, 60], [70, 60], [70.3, 720], [72, 720], [72.3, 60], [74, 60], [74.3, 720], [75.5, 700], [75.8, 100], [77, 60], [78, 80], [80, 40], [83, 50], [84, 200], [85, 450], [85.5, 200], [86, 80], [88, 80], [89, 150], [90, 200], [91, 150], [92, 130], [95, 80], [97, 40], [100, 30], [103, 40], [104, 60], [105, 30], [107, 30], [110, 60], [112, 60], [113, 120], [114, 80], [115, 150], [116, 100], [117, 60], [118, 150], [119, 160], [119.5, 60], [122, 40], [125, 30]];
const omsIce = [[0, 0], [10, 0], [10.3, 1.3], [14, 1.3], [14.3, 4], [20, 3.9], [30, 3.1], [40, 2.4], [50, 2.2], [60, 2.1], [65, 1.6], [70, 0.9], [75, 0.4], [80, 0.3], [90, 0.1], [100, 0], [125, 0.2]];
const omsType = [[0, 10.2, 2], [2, 2.5, 1], [5, 5.5, 1], [8, 8.5, 1], [10.2, 25, 0], [25, 27, 1], [27, 30, 0], [30, 36, 1], [32, 33, 0], [36, 40, 0], [40, 42, 1], [42, 45, 0], [45, 50, 1], [50, 62, 0], [53, 54, 1], [58, 59, 1], [62, 70, 0], [70, 72, 1], [72, 77.5, 0], [74, 75, 1], [77.5, 84.3, 1], [84.3, 85.9, 0], [85.9, 88.5, 1], [88.5, 94.2, 0], [94.2, 113.5, 1], [113.5, 116.1, 2], [116.1, 118.7, 1], [118.7, 120.8, 2], [120.8, 125, 1]];

// ---- Yakutsk
const yakLit = [
  0.4, 0.2, 0.35, 0.22, 0.32, 0.25, 0.33, 0.28, 0.3, 0.28, 0.32, 0.27, 0.3, 0.26,
  0.12, 0.05, 0.05, 0.05, 0.25, 0.05, 0.05, 0.05, 0.05, 0.05,
  0.05, 0.05, 0.05, 0.05, 0.05, 0.05, 0.05, 0.05, 0.05, 0.05, 0.05, 0.05, 0.05, 0.05,
  0.05, 0.07, 0.05, 0.05, 0.05, 0.05, 0.05, 0.05, 0.05, 0.05, 0.1, 0.05,
  0.05, 0.05, 0.08, 0.05, 0.05, 0.05, 0.07, 0.05, 0.09, 0.05, 0.05, 0.05, 0.05,
  0.05, 0.05, 0.1, 0.05, 0.05, 0.1, 0.05, 0.05, 0.09, 0.16, 0.05,
  0.05, 0.05, 0.05, 0.05, 0.05, 0.07, 0.15, 0.06, 0.15, 0.05,
  0.05, 0.05, 0.08, 0.05, 0.05, 0.3, 0.42, 0.3, 0.6, 0.25, 0.2, 0.05, 0.57, 0.55, 0.3, 0.25, 0.18, 0.12, 0.15, 0.1, 0.12
];
const yakSoc = [
  45, 52, 47, 60, 50, 55, 48, 54, 47, 55, 50, 56, 52, 46,
  28, 20, 20, 20, 37, 20, 20, 20, 20, 20,
  20, 20, 20, 20, 20, 20, 20, 20, 20, 20, 20, 20, 20, 20,
  20, 21, 20, 20, 20, 20, 20, 20, 20, 20, 25, 20,
  20, 20, 23, 20, 20, 20, 21, 20, 24, 20, 20, 20, 20,
  20, 20, 25, 20, 20, 24, 20, 20, 24, 32, 20,
  20, 20, 20, 20, 20, 22, 32, 20, 33, 20,
  20, 20, 21, 20, 20, 55, 70, 58, 82, 48, 40, 20, 82, 82, 60, 38, 32, 33, 26, 30, 27
];
const yakWat = [
  850, 1000, 900, 1050, 880, 1000, 950, 1000, 900, 1000, 950, 1000, 980, 950,
  800, 400, 550, 600, 980, 420, 480, 430, 450, 420,
  350, 330, 450, 300, 600, 340, 320, 550, 330, 550, 340, 360, 650, 350,
  400, 700, 340, 350, 650, 340, 350, 650, 330, 480, 780, 420,
  460, 580, 750, 400, 700, 480, 780, 380, 750, 400, 350, 450, 330,
  320, 330, 800, 280, 550, 800, 300, 550, 700, 850, 550,
  400, 620, 480, 480, 520, 600, 850, 550, 820, 580,
  600, 500, 680, 500, 550, 1100, 1050, 900, 1100, 700, 1050, 650, 1100, 1050, 900, 800, 750, 700, 780, 680, 720
];
const yakIce = [[0, 16], [5, 16.7], [11, 17.4], [20, 16.1], [30, 14.5], [40, 12.8], [50, 11], [60, 9.3], [70, 7.6], [80, 6], [83, 5.6], [90, 4.6], [100, 2.9], [105, 2.3], [110, 1.4], [114, 0.5], [116, 0.8], [118, 0.7], [119, 0.4], [120, 1.1], [122, 1.1], [125, 0.7]];
const yakType = [[0, 125, 0], [13.5, 13.8, 1], [33, 33.3, 1], [47.6, 47.9, 1], [80, 80.2, 1], [110, 110.2, 1], [114.5, 115.2, 1], [118.8, 119.8, 6]];

const litter = [anaLit, fbkLit, sitLit, yelLit, chuLit, kevLit, omsLit, yakLit];
const soc = [
  [anaSoc],
  [fbkSocWt, fbkSocIS, fbkSocNf, fbkSocRd],
  [sitSocWt, sitSocIS, sitSocNf, sitSocRd],
  [yelSocWt, yelSocIS, yelSocNf, yelSocRd],
  [chuSocWt, chuSocIS, chuSocNf, chuSocRd],
  [kevSocWt, kevSocIS, kevSocNf, kevSocRd],
  [omsSocWt, omsSocIS, omsSocNf, omsSocRd],
  [yakSoc]
];
const water = [anaWat, fbkWat, sitWat, yelWat, chuWat, kevWat, omsWat, yakWat];
const ice = [anaIce, fbkIce, sitIce, yelIce, chuIce, kevIce, omsIce, yakIce];
const iceType = [anaType, fbkType, sitType, yelType, chuType, kevType, omsType, yakType];

// ---- layout / style
const colLeft = [73, 599, 1124, 1648];
const rowTop = [53, 398, 742, 1087, 1431, 1776, 2121, 2465];
const plotW = 400, plotH = 259, axisW = 72, titleH = 36, xAxisH = 46, padR = 14;
const socColors = ['#1aa7e0', '#ffbf00', '#ff8000', '#d43c00'];
const stripLo = 36, stripHi = 39.5;

Chart.defaults.font.family = '"Liberation Sans", Arial, Helvetica, sans-serif';
Chart.defaults.color = '#000';

const page = document.getElementById('page');

function toPts(series) {
  if (Array.isArray(series[0])) return series.map(([x, y]) => ({ x, y }));
  if (series.length !== tBP.length) console.warn('length mismatch', series.length);
  return series.map((v, i) => ({ x: tBP[i], y: v }));
}

// vegetation-type strip along the top of the ICE panels
const iceStrip = {
  id: 'iceStrip',
  beforeDatasetsDraw(chart, args, opts) {
    if (!opts || !opts.runs) return;
    const { ctx, scales: { x, y } } = chart;
    const y0 = y.getPixelForValue(stripHi), y1 = y.getPixelForValue(stripLo);
    ctx.save();
    for (const [s, e, t] of opts.runs) {
      const x0 = x.getPixelForValue(s), x1 = x.getPixelForValue(e);
      ctx.fillStyle = typeColors[t];
      ctx.fillRect(x0, y0, Math.max(x1 - x0, 1.2), y1 - y0);
    }
    ctx.restore();
  }
};

// closed box with inward major/minor ticks on all four sides
const idlFrame = {
  id: 'idlFrame',
  afterDraw(chart) {
    const { ctx, chartArea: a, scales: { x, y } } = chart;
    ctx.save();
    ctx.strokeStyle = '#000';
    ctx.lineWidth = 1.4;
    ctx.beginPath();
    for (let v = 0; v <= x.max; v += 4) {
      const p = x.getPixelForValue(v), L = v % 20 === 0 ? 9 : 4.5;
      ctx.moveTo(p, a.bottom); ctx.lineTo(p, a.bottom - L);
      ctx.moveTo(p, a.top); ctx.lineTo(p, a.top + L);
    }
    const yt = y.ticks.map(t => t.value);
    yt.forEach((v, i) => {
      const marks = [[v, 9]];
      if (i + 1 < yt.length) marks.push([(v + yt[i + 1]) / 2, 4.5]);
      for (const [m, L] of marks) {
        const p = y.getPixelForValue(m);
        ctx.moveTo(a.left, p); ctx.lineTo(a.left + L, p);
        ctx.moveTo(a.right, p); ctx.lineTo(a.right - L, p);
      }
    });
    ctx.stroke();
    ctx.lineWidth = 2;
    ctx.strokeRect(a.left, a.top, a.right - a.left, a.bottom - a.top);
    ctx.restore();
  }
};

function panel(col, row, title, yTitle, yTitlePad, yTicks, fmt, datasets, runs) {
  const w = axisW + plotW + padR, h = titleH + plotH + xAxisH;
  const c = document.createElement('canvas');
  c.width = w; c.height = h;
  c.style.width = w + 'px'; c.style.height = h + 'px';
  c.style.left = (colLeft[col] - axisW) + 'px';
  c.style.top = (rowTop[row] - titleH) + 'px';
  page.appendChild(c);
  new Chart(c, {
    type: 'line',
    data: { datasets },
    options: {
      responsive: false,
      animation: false,
      devicePixelRatio: 1,
      layout: { padding: { left: 0, right: padR, top: 0, bottom: 0 } },
      elements: { point: { radius: 0 }, line: { tension: 0, borderJoinStyle: 'round' } },
      plugins: {
        legend: { display: false },
        tooltip: { enabled: false },
        title: { display: true, text: title, color: '#000', font: { size: 19.5, weight: 'normal' }, padding: { top: 9, bottom: 3 } },
        iceStrip: { runs }
      },
      scales: {
        x: {
          type: 'linear', min: 0, max: 125,
          grid: { display: false, drawTicks: false },
          border: { display: false },
          afterBuildTicks: s => { s.ticks = xTicks.map(v => ({ value: v })); },
          afterFit: s => { s.height = xAxisH; },
          ticks: { color: '#000', font: { size: 16.5 }, padding: 6, maxRotation: 0, autoSkip: false },
          title: { display: true, text: 'x1000 years BP', color: '#000', font: { size: 17 }, padding: { top: 0, bottom: 2 } }
        },
        y: {
          type: 'linear', min: yTicks[0], max: yTicks[yTicks.length - 1],
          grid: { display: false, drawTicks: false },
          border: { display: false },
          afterBuildTicks: s => { s.ticks = yTicks.map(v => ({ value: v })); },
          afterFit: s => { s.width = axisW; },
          ticks: { color: '#000', font: { size: 16.5 }, padding: 5, autoSkip: false, callback: v => fmt(v) },
          title: { display: true, text: yTitle, color: '#000', font: { size: 17 }, padding: { top: yTitlePad, bottom: 0 } }
        }
      }
    },
    plugins: [iceStrip, idlFrame]
  });
}

const fmt1 = v => v.toFixed(1);
const fmt0 = v => String(v);

sites.forEach((site, r) => {
  panel(0, r, site + ': LitterFall', 'kgC m\u207B\u00B2 a\u207B\u00B9', 17, litTicks, fmt1,
    [{ data: toPts(litter[r]), borderColor: '#12f046', borderWidth: 2 }]);
  panel(1, r, site + ': SOC', 'kgC m\u207B\u00B2', 20, socTicks, fmt0,
    soc[r].map((s, k) => ({ data: toPts(s), borderColor: socColors[k], borderWidth: 2 })));
  panel(2, r, site + ': ICE', 'm', 21, iceTicks, fmt0,
    [{ data: toPts(ice[r]), borderColor: '#1c3cd8', borderWidth: 1.6 }], iceType[r]);
  panel(3, r, site + ': Water', 'mm', 3, watTicks, fmt0,
    [{ data: toPts(water[r]), borderColor: '#0b2ec6', borderWidth: 2 }]);
});

// colour key for the vegetation types
(function () {
  const w = 907, h = 151;
  const c = document.createElement('canvas');
  c.width = w; c.height = h;
  c.style.width = w + 'px'; c.style.height = h + 'px';
  c.style.left = '559px'; c.style.top = '2797px';
  page.appendChild(c);
  new Chart(c, {
    type: 'bar',
    data: {
      labels: typeNames,
      datasets: [{ data: typeBar, backgroundColor: typeColors, borderWidth: 0, barPercentage: 1, categoryPercentage: 1 }]
    },
    options: {
      responsive: false,
      animation: false,
      devicePixelRatio: 1,
      layout: { padding: 0 },
      plugins: { legend: { display: false }, tooltip: { enabled: false } },
      scales: {
        x: {
          grid: { display: false, drawTicks: false },
          border: { display: false },
          afterFit: s => { s.height = 95; },
          ticks: { color: '#000', font: { size: 31 }, padding: 11 },
          title: { display: true, text: 'Type', color: '#000', font: { size: 32 }, padding: { top: 0, bottom: 6 } }
        },
        y: { display: false, min: 0, max: 1 }
      }
    }
  });
})();
</script>
</body>
</html>
